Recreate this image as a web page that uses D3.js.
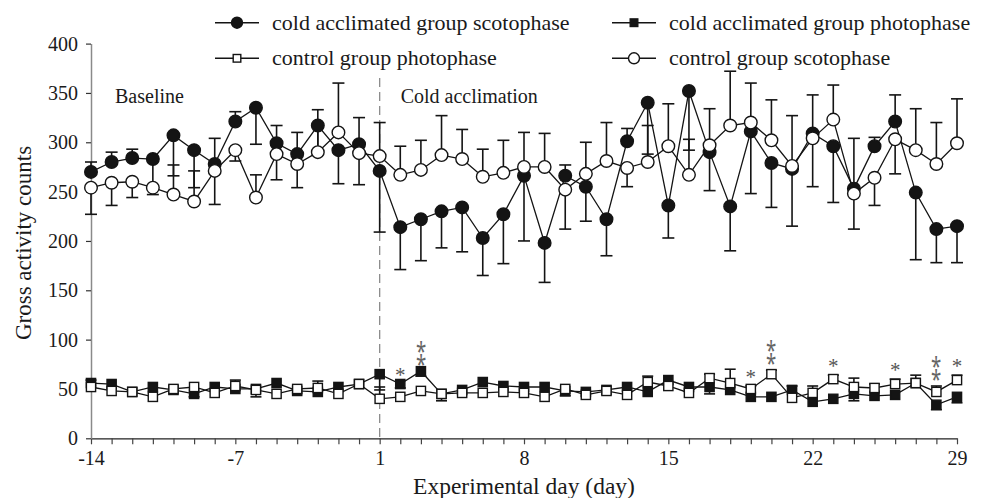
<!DOCTYPE html>
<html>
<head>
<meta charset="utf-8">
<script src="https://cdn.jsdelivr.net/npm/d3@7/dist/d3.min.js"></script>
<style>
  body { margin: 0; background: #fff; }
  svg text { font-family: "Liberation Serif", "Times New Roman", serif; fill: #1a1a1a; }
</style>
</head>
<body>
<svg id="chart" width="982" height="498"></svg>
<script>
// Experimental days (no day 0: baseline runs -14..-1, cold acclimation 1..29)
const days = [-14, -13, -12, -11, -10, -9, -8, -7, -6, -5, -4, -3, -2, -1,
  1, 2, 3, 4, 5, 6, 7, 8, 9, 10, 11, 12, 13, 14, 15, 16, 17, 18, 19, 20,
  21, 22, 23, 24, 25, 26, 27, 28, 29];
const labelledDays = [-14, -7, 1, 8, 15, 22, 29];
const yTicks = [0, 50, 100, 150, 200, 250, 300, 350, 400];

// Mean gross activity counts; error values are signed (+ drawn upward, - drawn downward)
const coldScoto = [270, 280, 284, 283, 307, 292, 278, 321, 335, 299, 288, 317, 292, 298,
  271, 214, 222, 230, 234, 203, 227, 266, 198, 266, 255, 222, 301, 340, 236, 352,
  290, 235, 311, 279, 273, 309, 296, 253, 296, 321, 249, 212, 215];
const coldScotoErr = [10, 10, 9, -36, -41, -38, 26, 10, -37, 18, 22, -28, -34, 27,
  -62, -43, -42, -37, -45, -38, -50, -66, -40, 11, -35, -37, 13, -52, -33, -60,
  -39, -45, -63, -45, -58, -54, -57, 51, 9, 27, -68, -34, -37];

const coldPhoto = [56, 55, 47, 52, 49, 45, 52, 50, 50, 56, 48, 47, 52, 55,
  65, 55, 68, 45, 49, 57, 53, 52, 52, 48, 47, 49, 52, 47, 59, 52,
  52, 49, 42, 42, 49, 37, 40, 45, 43, 44, 56, 34, 42];
const coldPhotoErr = [3, 0, 0, 0, 0, -3, 0, 0, 0, 0, 0, 0, 0, 0,
  -16, -4, -5, 0, 0, 0, 0, 0, 0, 0, 0, 0, 0, 0, 0, 0,
  -7, 0, 0, 0, 4, 0, 0, -7, 0, 0, 0, -5, -6];

const controlPhoto = [52, 48, 47, 42, 50, 52, 46, 53, 49, 45, 50, 51, 45, 55,
  40, 42, 48, 45, 46, 46, 47, 46, 42, 50, 44, 48, 44, 57, 53, 46,
  61, 56, 50, 65, 41, 46, 60, 52, 51, 55, 56, 47, 59];
const controlPhotoErr = [0, 0, 0, 0, 0, 0, 0, 6, -7, 0, 0, 7, 0, 0,
  12, 0, 0, -7, 0, 0, 0, 0, 0, -7, 0, 0, 0, 6, 0, 0,
  4, 14, 3, 4, 0, 7, 4, 9, 4, 5, 8, 6, 5];

const controlScoto = [254, 259, 260, 254, 247, 240, 271, 292, 244, 288, 278, 290, 310, 289,
  286, 267, 272, 287, 283, 265, 269, 275, 275, 252, 268, 281, 274, 280, 296, 267,
  297, 317, 320, 302, 276, 304, 323, 248, 264, 303, 292, 278, 299];
const controlScotoErr = [-27, -23, -16, 0, 30, 31, -34, -11, 23, -26, -24, 43, 50, -32,
  34, 29, 30, 40, 30, 28, 33, 35, 34, -40, 32, 39, -19, 37, 43, 36,
  37, 55, 40, 41, 51, 44, 35, -36, -28, -35, 42, 42, 45];

// Significance marks above the photophase pair
const starDays = [2, 3, 19, 20, 23, 26, 28, 29];
const starMarks = ["*", "⁑", "*", "⁑", "*", "*", "⁑", "*"];

const seriesNames = ["cold acclimated group scotophase", "cold acclimated group photophase",
  "control group photophase", "control group scotophase"];
const phaseLabels = [{ text: "Baseline", day: -14 }, { text: "Cold acclimation", day: 1 }];

const series = [
  { name: seriesNames[0], values: coldScoto, errs: coldScotoErr, shape: "circle", filled: true },
  { name: seriesNames[1], values: coldPhoto, errs: coldPhotoErr, shape: "square", filled: true },
  { name: seriesNames[2], values: controlPhoto, errs: controlPhotoErr, shape: "square", filled: false },
  { name: seriesNames[3], values: controlScoto, errs: controlScotoErr, shape: "circle", filled: false }
];

const svg = d3.select("#chart");
const ink = "#141414";

const x = d3.scalePoint().domain(days).range([91, 957]);
const y = d3.scaleLinear().domain([0, 400]).range([438.3, 43.6]);

// Axes
const xAxis = svg.append("g").attr("transform", `translate(0,${y(0)})`)
  .call(d3.axisBottom(x).tickValues(days).tickSizeInner(6).tickSizeOuter(0).tickPadding(7)
    .tickFormat(d => labelledDays.includes(d) ? d : ""));
xAxis.select(".domain").attr("stroke", "#222").attr("stroke-width", 1.3);
xAxis.selectAll(".tick line").attr("stroke", "#444").attr("stroke-width", 1.2);
xAxis.selectAll(".tick text").attr("font-size", 20).attr("font-family", "Liberation Serif").attr("fill", "#1a1a1a");

const yAxis = svg.append("g").attr("transform", `translate(${x(days[0])},0)`)
  .call(d3.axisLeft(y).tickValues(yTicks).tickSizeInner(5).tickSizeOuter(0).tickPadding(8));
yAxis.select(".domain").attr("stroke", "#8a8a8a").attr("stroke-width", 1.5);
yAxis.selectAll(".tick line").attr("stroke", "#333").attr("stroke-width", 1.2);
yAxis.selectAll(".tick text").attr("font-size", 20).attr("font-family", "Liberation Serif").attr("fill", "#1a1a1a");

// Axis titles
svg.append("text").attr("x", (x.range()[0] + x.range()[1]) / 2).attr("y", 494)
  .attr("text-anchor", "middle").attr("font-size", 23.5).text("Experimental day (day)");
svg.append("text").attr("transform", `translate(31,243) rotate(-90)`)
  .attr("text-anchor", "middle").attr("font-size", 23).text("Gross activity counts");

// Start of cold acclimation
svg.append("line").attr("x1", x(1)).attr("x2", x(1)).attr("y1", 78).attr("y2", y(0))
  .attr("stroke", "#8c8c8c").attr("stroke-width", 1.3).attr("stroke-dasharray", "9,5");

svg.selectAll("text.phase").data(phaseLabels).join("text").attr("class", "phase")
  .attr("x", d => x(d.day) + (d.day === 1 ? 21 : 24)).attr("y", 103)
  .attr("font-size", 20).text(d => d.text);

// Connecting lines
const line = d3.line().x((d, i) => x(days[i])).y(d => y(d));
series.forEach(s => {
  svg.append("path").datum(s.values).attr("d", line)
    .attr("fill", "none").attr("stroke", ink).attr("stroke-width", 1.3);
});

// Error bars
series.forEach(s => {
  const cap = s.shape === "circle" ? 6 : 5.5;
  const g = svg.append("g").attr("stroke", ink).attr("stroke-width", 1.6);
  s.values.forEach((v, i) => {
    const e = s.errs[i];
    if (!e) return;
    const cx = x(days[i]);
    g.append("line").attr("x1", cx).attr("x2", cx).attr("y1", y(v)).attr("y2", y(v + e));
    g.append("line").attr("x1", cx - cap).attr("x2", cx + cap).attr("y1", y(v + e)).attr("y2", y(v + e));
  });
});

// Markers
function drawMarker(sel, shape, filled, size) {
  if (shape === "circle") {
    sel.append("circle").attr("r", size)
      .attr("fill", filled ? ink : "#fff").attr("stroke", ink).attr("stroke-width", 1.4);
  } else {
    sel.append("rect").attr("x", -size).attr("y", -size).attr("width", size * 2).attr("height", size * 2)
      .attr("fill", filled ? ink : "#fff").attr("stroke", ink).attr("stroke-width", 1.4);
  }
}
series.forEach(s => {
  s.values.forEach((v, i) => {
    const g = svg.append("g").attr("transform", `translate(${x(days[i])},${y(v)})`);
    drawMarker(g, s.shape, s.filled, s.shape === "circle" ? 6.3 : 4.6);
  });
});

// Significance asterisks
starDays.forEach((d, k) => {
  const i = days.indexOf(d);
  const top = d3.max([coldPhoto[i] + Math.max(coldPhotoErr[i], 0),
                      controlPhoto[i] + Math.max(controlPhotoErr[i], 0)]);
  if (starMarks[k] === "*") {
    svg.append("text").attr("x", x(d)).attr("y", y(top) - 2)
      .attr("text-anchor", "middle").attr("font-size", 21)
      .style("fill", "#555").text(starMarks[k]);
  } else {
    // stacked pair, stretched vertically to open the gap between the two marks
    svg.append("text")
      .attr("transform", `translate(${x(d)},${y(top) - 10.5}) scale(0.85,1.2)`)
      .attr("text-anchor", "middle").attr("font-family", "DejaVu Serif").attr("font-size", 22)
      .style("fill", "#666").text(starMarks[k]);
  }
});

// Legend
const legendItems = [
  { s: series[0], lx: 215, ly: 22.7 },
  { s: series[1], lx: 612, ly: 22.7 },
  { s: series[2], lx: 215, ly: 58.3 },
  { s: series[3], lx: 612, ly: 58.3 }
];
legendItems.forEach(it => {
  const g = svg.append("g").attr("transform", `translate(${it.lx},${it.ly})`);
  g.append("line").attr("x1", 0).attr("x2", 44).attr("stroke", ink).attr("stroke-width", 1.4);
  const m = g.append("g").attr("transform", "translate(22,0)");
  drawMarker(m, it.s.shape, it.s.filled, it.s.shape === "circle" ? 5.5 : 3.8);
  g.append("text").attr("x", 57).attr("y", 0).attr("dy", "0.32em").attr("font-size", 22).text(it.s.name);
});
</script>
</body>
</html>
